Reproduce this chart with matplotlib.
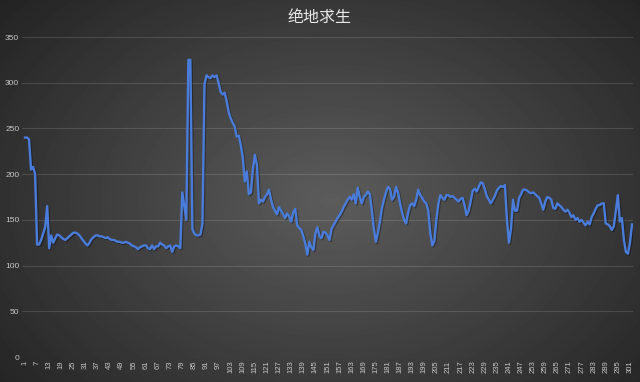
import numpy as np
import matplotlib
matplotlib.use("Agg")
import matplotlib.pyplot as plt
import matplotlib.patheffects as pe

# frame rate samples
fps = [
    240, 240, 238, 205, 208, 200, 123, 123, 128, 135,
    142, 165, 119, 133, 125, 130, 134, 133, 131, 129,
    128, 130, 132, 134, 136, 136, 135, 133, 130, 127,
    124, 122, 125, 129, 131, 133, 133, 132, 132, 131,
    130, 131, 129, 128, 128, 127, 126, 126, 125, 125,
    126, 125, 124, 122, 121, 120, 118, 120, 121, 122,
    122, 119, 118, 122, 118, 121, 121, 125, 123, 122,
    119, 121, 122, 115, 121, 122, 121, 119, 180, 165,
    150, 325, 325, 140, 135, 133, 133, 134, 146, 298,
    308, 306, 305, 308, 306, 308, 300, 290, 287, 289,
    280, 268, 261, 256, 252, 241, 242, 232, 218, 192,
    203, 178, 180, 205, 221, 210, 168, 172, 170, 175,
    178, 183, 172, 164, 160, 156, 164, 160, 156, 152,
    157, 154, 148, 158, 162, 144, 141, 139, 132, 124,
    112, 126, 120, 117, 135, 142, 132, 130, 137, 136,
    133, 128, 140, 144, 148, 152, 155, 159, 164, 168,
    172, 175, 172, 178, 168, 185, 175, 168, 175, 177,
    181, 178, 160, 140, 126, 136, 148, 163, 172, 180,
    186, 184, 172, 175, 186, 180, 168, 158, 150, 146,
    158, 166, 168, 165, 172, 183, 177, 174, 170, 168,
    160, 135, 122, 127, 150, 168, 177, 174, 172, 177,
    177, 175, 176, 174, 172, 170, 173, 174, 166, 155,
    160, 170, 182, 184, 181, 186, 191, 190, 184, 176,
    172, 168, 172, 176, 182, 185, 187, 186, 188, 150,
    125, 140, 172, 160, 160, 174, 178, 183, 183, 182,
    180, 179, 180, 178, 176, 174, 168, 161, 170, 175,
    174, 172, 163, 162, 168, 166, 164, 161, 159, 161,
    158, 153, 155, 150, 152, 148, 150, 147, 144, 148,
    145, 153, 157, 162, 166, 166, 168, 168, 146, 145,
    143, 139, 143, 160, 177, 148, 152, 128, 115, 113,
    125, 145,
]
frames = list(range(1, len(fps) + 1))
y_ticks = [0, 50, 100, 150, 200, 250, 300, 350]
title = "绝地求生"

plt.rcParams["font.family"] = ["Liberation Sans", "DejaVu Sans"]

W, H = 640, 382
fig = plt.figure(figsize=(W / 100, H / 100), dpi=100)

# dark radial background
yy, xx = np.mgrid[0:H, 0:W]
d = np.sqrt(((xx - 330) / 380.0) ** 2 + ((yy - 200) / 270.0) ** 2)
grad = np.clip(92 - 50 * d, 30, 255)
bg = fig.add_axes([0, 0, 1, 1])
bg.imshow(grad, cmap="gray", vmin=0, vmax=255, aspect="auto",
          interpolation="bilinear")
bg.axis("off")

ax = fig.add_axes([22 / W, 25 / H, 611 / W, 320 / H])
ax.set_facecolor("none")
ax.plot(frames, fps, color="#4a7ddb", lw=1.7, solid_joinstyle="round",
        path_effects=[pe.SimpleLineShadow(offset=(0.8, -0.8), alpha=0.35),
                      pe.Normal()])

ax.set_xlim(-0.5, len(fps) + 0.5)
ax.set_ylim(0, 350)
ax.set_yticks(y_ticks)
ax.set_xticks(frames[::6])
ax.set_xticklabels([str(f) for f in frames[::6]], rotation=90)
ax.grid(axis="y", color="#ffffff", alpha=0.13, lw=0.8)
ax.set_axisbelow(True)
for s in ax.spines.values():
    s.set_visible(False)
ax.tick_params(axis="y", length=0, pad=2, labelsize=6, labelcolor="#c8c8c8")
ax.tick_params(axis="x", length=0, pad=2.5, labelsize=5.5, labelcolor="#c8c8c8")

fig.text(0.5, 0.953, title, ha="center", va="center", fontsize=11.5,
         color="#e8e8e8", family=["Noto Sans CJK SC", "DejaVu Sans"])

fig.savefig("out.png", dpi=100)
